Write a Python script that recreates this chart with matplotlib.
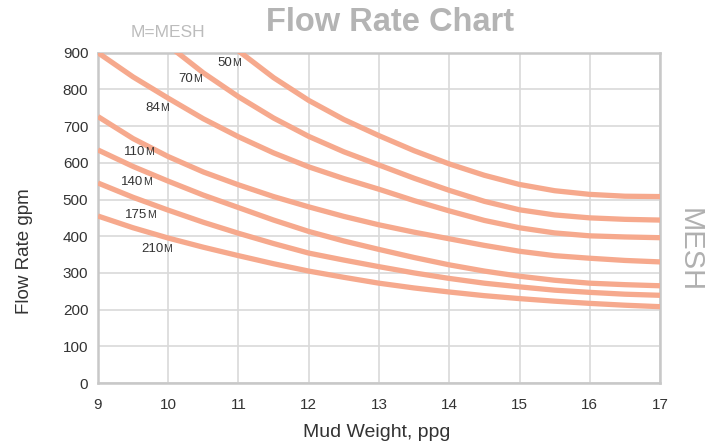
import numpy as np
import matplotlib
matplotlib.use("Agg")
import matplotlib.pyplot as plt

plt.rcParams['font.family'] = ['Liberation Sans', 'DejaVu Sans']

# mud weight (ppg) and flow rate (gpm), one list per mesh
mesh_labels = ['50', '70', '84', '110', '140', '175', '210']
x_full = [9, 9.5, 10, 10.5, 11, 11.5, 12, 12.5, 13, 13.5, 14, 14.5,
          15, 15.5, 16, 16.5, 17]
x_50 = x_full[4:]
y_50 = [905, 832, 770, 718, 674, 633, 597, 566, 541, 524, 514, 509, 508]
x_70 = x_full[2:]
y_70 = [920, 845, 780, 722, 672, 630, 594, 558, 525, 495, 472, 458, 450,
        446, 444]
y_84 = [900, 834, 776, 720, 671, 627, 589, 557, 528, 497, 469, 443, 423,
        409, 401, 398, 396]
y_110 = [726, 666, 617, 575, 540, 508, 480, 454, 431, 411, 393, 375, 359,
         347, 340, 334, 330]
y_140 = [635, 590, 550, 512, 478, 444, 413, 387, 364, 342, 322, 305, 291,
         280, 272, 268, 265]
y_175 = [545, 506, 471, 438, 408, 380, 354, 335, 317, 300, 285, 272, 262,
         253, 247, 242, 239]
y_210 = [455, 423, 395, 370, 347, 325, 305, 288, 272, 259, 248, 238, 230,
         223, 217, 212, 208]

# split point between the number and the "M" of each label (baseline)
label_x = [10.91, 10.35, 9.88, 9.67, 9.64, 9.70, 9.93]
label_y = [864, 821, 741, 621, 539, 450, 358]

xs = [x_50, x_70, x_full, x_full, x_full, x_full, x_full]
ys = [y_50, y_70, y_84, y_110, y_140, y_175, y_210]

line_color = '#f6a98d'
grid_color = '#d9d9d9'
text_color = '#333333'

fig = plt.figure(figsize=(7.1, 4.43), dpi=100)
ax = fig.add_axes([0.138, 0.1354, 0.7916, 0.7456])

for x, y in zip(xs, ys):
    ax.plot(x, y, color=line_color, lw=3.8, solid_joinstyle='round',
            solid_capstyle='butt', zorder=3)

for lab, lx, ly in zip(mesh_labels, label_x, label_y):
    ax.text(lx, ly, lab, fontsize=9.5, color=text_color, ha='right',
            va='baseline', zorder=4)
    ax.text(lx, ly, 'M', fontsize=7.5, color=text_color, ha='left',
            va='baseline', zorder=4)

ax.set_xlim(9, 17)
ax.set_ylim(0, 900)
ax.set_xticks(np.arange(9, 18, 1))
ax.set_yticks(np.arange(0, 901, 100))
ax.grid(True, color=grid_color, lw=1.2)
ax.set_axisbelow(True)
ax.tick_params(length=0, labelsize=11, colors=text_color)
ax.tick_params(axis='x', pad=11)
ax.tick_params(axis='y', pad=7)
for s in ax.spines.values():
    s.set_color('#c8c8c8')
    s.set_linewidth(1.8)

ax.set_xlabel('Mud Weight, ppg', fontsize=14, color=text_color)
ax.xaxis.set_label_coords(0.4955, -0.125)
ax.set_ylabel('Flow Rate gpm', fontsize=13.5, color=text_color)
ax.yaxis.set_label_coords(-0.115, 0.398)

fig.text(0.549, 0.95, 'Flow Rate Chart', fontsize=23.5, fontweight='bold',
         color='#b4b4b4', ha='center', va='center')
fig.text(0.237, 0.927, 'M=MESH', fontsize=12.5, color='#bcbcbc',
         ha='center', va='center')
fig.text(0.972, 0.436, 'MESH', fontsize=21, color='#b0b0b0', rotation=-90,
         ha='center', va='center')

fig.savefig('out.png', dpi=100)
